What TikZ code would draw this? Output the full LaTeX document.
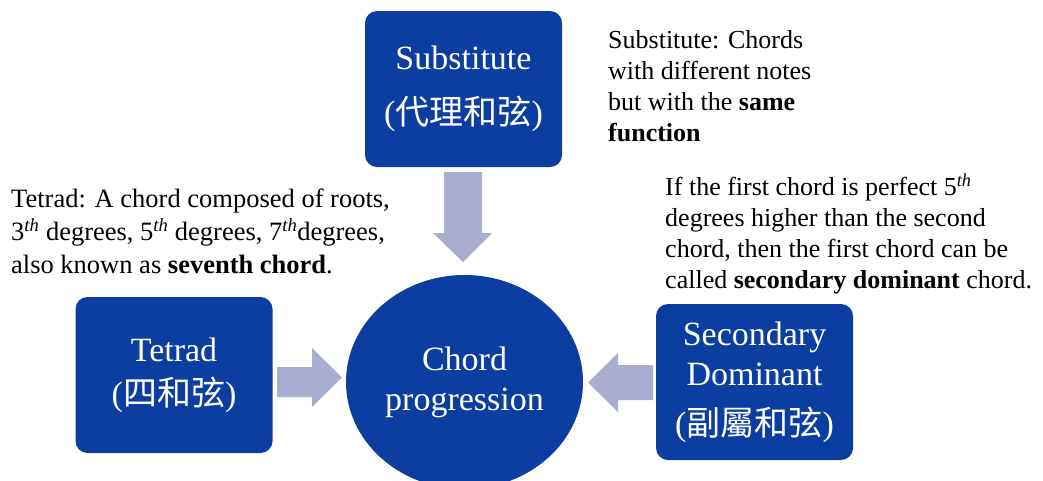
\documentclass[tikz,border=0pt]{standalone}
\usepackage{fontspec}
\setmainfont{Liberation Serif}
\newfontfamily\cjk{Noto Sans CJK TC}
\usetikzlibrary{shapes.geometric}
\definecolor{boxblue}{HTML}{0C3DA0}
\definecolor{arrowgray}{HTML}{A9AED1}
\begin{document}
\begin{tikzpicture}[x=1pt,y=-1pt,
  bluebox/.style={fill=boxblue, rounded corners=12pt, text=white, align=center,
    font=\fontsize{34}{40}\selectfont, minimum width=197pt, minimum height=156pt, inner sep=0pt},
  bluecircle/.style={ellipse, fill=boxblue, text=white, align=center,
    font=\fontsize{34}{40}\selectfont, minimum width=237pt, minimum height=214pt, inner sep=0pt},
  note/.style={anchor=north west, align=left, font=\fontsize{26}{31}\selectfont, inner sep=0pt},
  blockarrow/.style={fill=arrowgray}]
\useasboundingbox (0,0) rectangle (1043,480);
% block arrows
\fill[blockarrow] (444,172) -- (482,172) -- (482,233) -- (492,233) -- (463,262) -- (433,233) -- (444,233) -- cycle;
\fill[blockarrow] (277,367) -- (312,367) -- (312,348) -- (342,377.5) -- (312,407) -- (312,397) -- (277,397) -- cycle;
\fill[blockarrow] (653,365) -- (618,365) -- (618,353) -- (588,382.5) -- (618,412) -- (618,400) -- (653,400) -- cycle;
% main shapes
\node[bluebox] (sub) at (463.5,89) {Substitute\\[15pt]({\cjk 代理和弦})};
\node[bluebox] (tet) at (174,375) {Tetrad\\[4pt]({\cjk 四和弦})};
\node[bluebox] (sec) at (754.5,382) {Secondary\\Dominant\\[10pt]({\cjk 副屬和弦})};
\node[bluecircle] (prog) at (464.5,382) {Chord\\progression};
% notes
\node[note] (n1) at (608,30) {Substitute: Chords\\with different notes\\but with the \textbf{same}\\\textbf{function}};
\node[note] (n2) at (665,174) {If the first chord is perfect 5$^{\mathit{th}}$\\degrees higher than the second\\chord, then the first chord can be\\called \textbf{secondary dominant} chord.};
\node[note, font=\fontsize{26.5}{33}\selectfont] (n3) at (11,189) {Tetrad: A chord composed of roots,\\3$^{\mathit{th}}$ degrees, 5$^{\mathit{th}}$ degrees, 7$^{\mathit{th}}$degrees,\\also known as \textbf{seventh chord}.};
\end{tikzpicture}
\end{document}
